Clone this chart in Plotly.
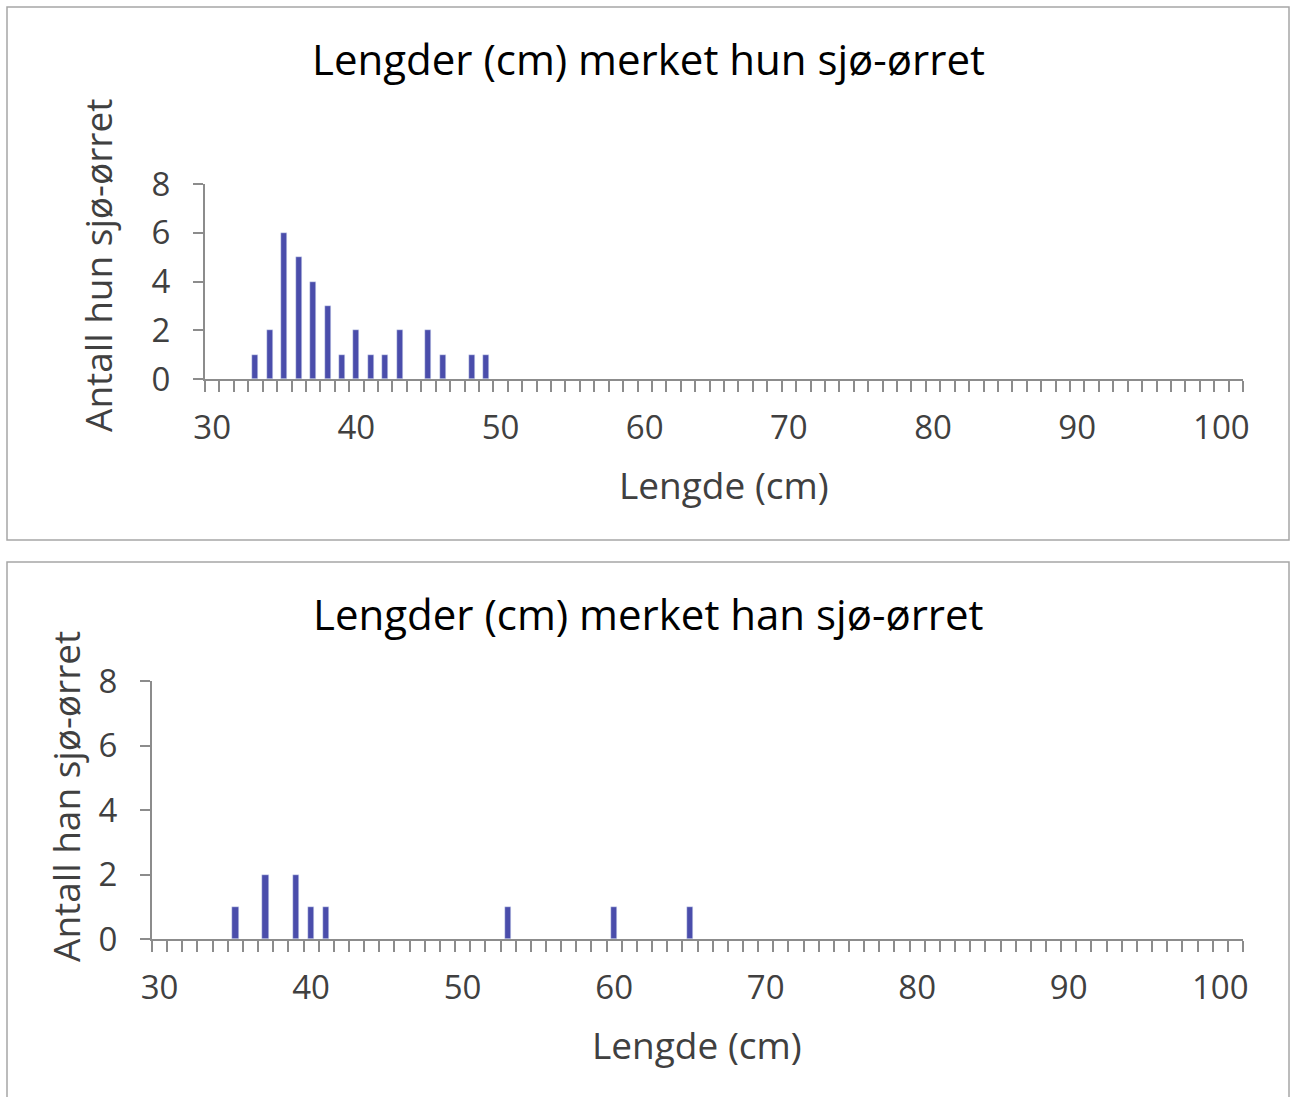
import plotly.graph_objects as go

# Data
hun_lengths = [33, 34, 35, 36, 37, 38, 39, 40, 41, 42, 43, 45, 46, 48, 49]
hun_counts = [1, 2, 6, 5, 4, 3, 1, 2, 1, 1, 2, 2, 1, 1, 1]
han_lengths = [35, 37, 39, 40, 41, 53, 60, 65]
han_counts = [1, 2, 2, 1, 1, 1, 1, 1]
x_tick_vals = [30, 40, 50, 60, 70, 80, 90, 100]
y_tick_vals = [0, 2, 4, 6, 8]

W, H = 1291, 1097
BAR = "#4a4dab"
AX = "#8c8c8c"
FONT = "'Open Sans', Lato, sans-serif"

def px_x(p):
    return p / W

def px_y(p):
    return 1 - p / H

fig = go.Figure()
fig.add_trace(go.Bar(x=hun_lengths, y=hun_counts, marker_color=BAR, width=0.42,
                     xaxis="x", yaxis="y", showlegend=False))
fig.add_trace(go.Bar(x=han_lengths, y=han_counts, marker_color=BAR, width=0.42,
                     xaxis="x2", yaxis="y2", showlegend=False))

def xaxis(domain, anchor):
    return dict(domain=domain, anchor=anchor, range=[29.5, 101.5],
                tickvals=x_tick_vals, ticks="", showgrid=False, zeroline=False,
                showline=True, linecolor=AX, linewidth=2, automargin=False,
                tickfont=dict(family=FONT, size=33, color="#404040"),
                ticklabelstandoff=18,
                minor=dict(ticks="outside", dtick=1, tick0=29.5, ticklen=11,
                           tickwidth=1.5, tickcolor=AX, showgrid=False))

def yaxis(domain, anchor):
    return dict(domain=domain, anchor=anchor, range=[0, 8], tickvals=y_tick_vals,
                ticks="outside", ticklen=10, tickwidth=1.5, tickcolor=AX,
                showgrid=False, zeroline=False, showline=True, linecolor=AX,
                linewidth=2, automargin=False,
                tickfont=dict(family=FONT, size=33, color="#404040"),
                ticklabelstandoff=16)

fig.update_layout(
    width=W, height=H, autosize=False,
    margin=dict(l=0, r=0, t=0, b=0, pad=0, autoexpand=False),
    paper_bgcolor="white", plot_bgcolor="white", bargap=0,
    xaxis=xaxis([px_x(205), px_x(1243)], "y"),
    yaxis=yaxis([px_y(379), px_y(184)], "x"),
    xaxis2=xaxis([px_x(152), px_x(1243)], "y2"),
    yaxis2=yaxis([px_y(939), px_y(681)], "x2"),
)

shapes = []
for (y0, y1) in [(7, 540), (562, 1105)]:
    shapes.append(dict(type="rect", xref="paper", yref="paper",
                       x0=px_x(7), x1=px_x(1289), y0=px_y(y1), y1=px_y(y0),
                       line=dict(color="#a6a6a6", width=1.5), fillcolor="rgba(0,0,0,0)",
                       layer="below"))
fig.update_layout(shapes=shapes)

def ann(text, x, y, size, color="#404040", angle=0):
    fig.add_annotation(text=text, x=px_x(x), y=px_y(y), xref="paper", yref="paper",
                       showarrow=False, textangle=angle, xanchor="center", yanchor="middle",
                       font=dict(family=FONT, size=size, color=color))

ann("Lengder (cm) merket hun sjø-ørret", 649, 59, 42, "#000000")
ann("Lengder (cm) merket han sjø-ørret", 649, 613, 42, "#000000")
ann("Lengde (cm)", 724, 484, 37)
ann("Lengde (cm)", 697, 1044, 37)
ann("Antall hun sjø-ørret", 97, 266, 37, angle=-90)
ann("Antall han sjø-ørret", 65, 797, 37, angle=-90)

fig.write_html("out.html")
